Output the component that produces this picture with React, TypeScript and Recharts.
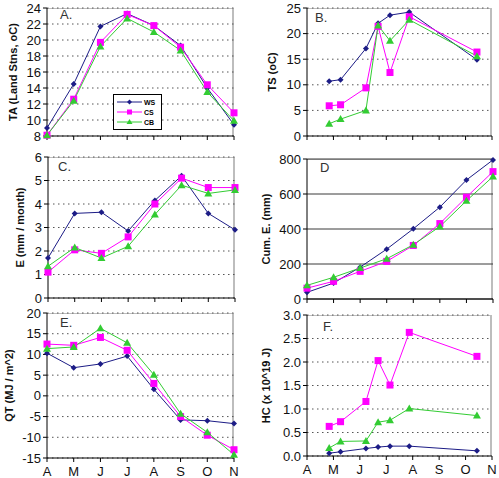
import React from 'react';
import { LineChart, Line, XAxis, YAxis, CartesianGrid, Legend } from 'recharts';

const months = ['A', 'M', 'J', 'J', 'A', 'S', 'O', 'N'];
const monthPos = [0, 1, 2, 3, 4, 5, 6, 7];
// survey dates (fraction of months since April 1) for panels B and F
const surveyPos = [0.84, 1.27, 2.23, 2.69, 3.14, 3.87, 6.43];

const seriesNames = ['WS', 'CS', 'CB'];

const taWS = [9.0, 14.5, 21.7, 23.3, 21.8, 19.3, 14.0, 9.4];
const taCS = [8.1, 12.6, 19.7, 23.2, 21.8, 19.1, 14.4, 10.9];
const taCB = [8.1, 12.4, 19.2, 22.7, 21.0, 18.7, 13.5, 9.9];

const tsWS = [10.7, 11.0, 17.1, 22.0, 23.6, 24.2, 14.9];
const tsCS = [5.9, 6.1, 9.4, 21.4, 12.4, 23.3, 16.4];
const tsCB = [2.4, 3.3, 5.0, 21.6, 18.6, 22.7, 15.6];

const eWS = [1.7, 3.6, 3.65, 2.85, 4.15, 5.2, 3.6, 2.9];
const eCS = [1.1, 2.05, 1.9, 2.6, 4.0, 5.1, 4.7, 4.7];
const eCB = [1.35, 2.15, 1.7, 2.2, 3.55, 4.8, 4.45, 4.6];

const cumWS = [38, 91, 182, 285, 401, 525, 680, 795];
const cumCS = [62, 101, 158, 215, 306, 431, 582, 728];
const cumCB = [78, 124, 177, 230, 310, 414, 561, 700];

const qtWS = [10.3, 6.8, 7.7, 9.6, 1.6, -5.8, -6.0, -6.7];
const qtCS = [12.5, 12.2, 14.1, 11.0, 3.0, -5.0, -9.5, -13.0];
const qtCB = [11.4, 11.8, 16.3, 12.8, 5.1, -4.3, -8.8, -14.2];

const hcWS = [0.06, 0.09, 0.16, 0.19, 0.21, 0.21, 0.11];
const hcCS = [0.63, 0.73, 1.16, 2.03, 1.51, 2.63, 2.12];
const hcCB = [0.17, 0.31, 0.32, 0.72, 0.76, 1.01, 0.86];

const BLUE = '#1c1c86';
const PINK = '#ff00ff';
const GREEN = '#33cc33';
const FONT = '"Liberation Sans", Arial, sans-serif';

const rows = (xs: number[], ws: number[], cs: number[], cb: number[]) =>
  xs.map((x, i) => ({ x, ws: ws[i], cs: cs[i], cb: cb[i] }));

const Diamond = (props: any) => {
  const { cx, cy, index } = props;
  if (cx == null || cy == null) return null;
  return <path key={index} d={`M${cx},${cy - 3}L${cx + 3},${cy}L${cx},${cy + 3}L${cx - 3},${cy}Z`} fill={BLUE} />;
};
const Square = (props: any) => {
  const { cx, cy, index } = props;
  if (cx == null || cy == null) return null;
  return <rect key={index} x={cx - 3.5} y={cy - 3.5} width={7} height={7} fill={PINK} />;
};
const Triangle = (props: any) => {
  const { cx, cy, index } = props;
  if (cx == null || cy == null) return null;
  return <path key={index} d={`M${cx},${cy - 4}L${cx + 4},${cy + 3}L${cx - 4},${cy + 3}Z`} fill={GREEN} />;
};

const LegendBox = () => {
  const items = [
    { name: seriesNames[0], color: BLUE, shape: 'd' },
    { name: seriesNames[1], color: PINK, shape: 's' },
    { name: seriesNames[2], color: GREEN, shape: 't' },
  ];
  return (
    <div style={{ border: '1px solid #000', background: '#fff', width: 47, padding: '2px 0', fontFamily: FONT }}>
      {items.map(it => (
        <div key={it.name} style={{ display: 'flex', alignItems: 'center', height: 10 }}>
          <svg width={30} height={10}>
            <line x1={3} y1={5} x2={28} y2={5} stroke={it.color} strokeWidth={1} />
            {it.shape === 'd' && <path d="M15.5,2.5L18,5L15.5,7.5L13,5Z" fill={it.color} />}
            {it.shape === 's' && <rect x={13} y={2.5} width={5} height={5} fill={it.color} />}
            {it.shape === 't' && <path d="M15.5,2L18.5,7L12.5,7Z" fill={it.color} />}
          </svg>
          <span style={{ fontSize: 7, color: '#000', fontWeight: 'bold' }}>{it.name}</span>
        </div>
      ))}
    </div>
  );
};

interface PanelProps {
  plotLeft: number;
  plotTop: number;
  plotW: number;
  plotH: number;
  data: { x: number; ws: number; cs: number; cb: number }[];
  domain: [number, number];
  ticks: number[];
  yFmt?: (v: number) => string;
  label: string;
  labelX: number;
  letter: string;
  letterLeft: number;
  letterTop: number;
  showMonths?: boolean;
  solidGrid?: boolean;
  legend?: boolean;
}

const LW = 47;

const Panel: React.FC<PanelProps> = p => {
  const w = LW + p.plotW + 6;
  const h = 8 + p.plotH + 24;
  const left = p.plotLeft - LW;
  const top = p.plotTop - 8;
  return (
    <>
      <div style={{ position: 'absolute', left: p.plotLeft, top: p.plotTop, width: p.plotW, height: p.plotH, borderTop: '1px solid #bdbdbd', borderRight: '2px solid #bdbdbd', boxSizing: 'border-box' }} />
      <div style={{ position: 'absolute', left, top }}>
        <LineChart width={w} height={h} data={p.data} margin={{ top: 8, right: 6, left: 0, bottom: 0 }}>
          <CartesianGrid
            vertical={false}
            stroke={p.solidGrid ? '#3a3a3a' : '#555'}
            strokeDasharray={p.solidGrid ? undefined : '1.5 3.5'}
          />
          <XAxis
            dataKey="x"
            type="number"
            domain={[0, 7]}
            ticks={monthPos}
            interval={0}
            height={24}
            stroke="#000"
            tickSize={4}
            tickMargin={5}
            tick={{ fontSize: 13, fill: '#111', fontFamily: FONT }}
            tickFormatter={(v: number) => (p.showMonths ? months[v] : '')}
          />
          <YAxis
            type="number"
            domain={p.domain}
            ticks={p.ticks}
            interval={0}
            width={LW}
            stroke="#000"
            tickSize={4}
            tickMargin={2}
            tick={{ fontSize: 13, fill: '#111', fontFamily: FONT }}
            tickFormatter={p.yFmt}
            label={{
              value: p.label,
              angle: -90,
              position: 'insideLeft',
              offset: p.labelX,
              style: { textAnchor: 'middle', fontSize: 11, fontWeight: 'bold', fill: '#111', fontFamily: FONT },
            }}
          />
          {p.legend && (
            <Legend
              layout="vertical"
              align="center"
              verticalAlign="middle"
              wrapperStyle={{ left: 113 - left, top: 94 - top, width: 49 }}
              content={() => <LegendBox />}
            />
          )}
          <Line dataKey="ws" name={seriesNames[0]} stroke={BLUE} strokeWidth={1} dot={Diamond} isAnimationActive={false} />
          <Line dataKey="cs" name={seriesNames[1]} stroke={PINK} strokeWidth={1} dot={Square} isAnimationActive={false} />
          <Line dataKey="cb" name={seriesNames[2]} stroke={GREEN} strokeWidth={1} dot={Triangle} isAnimationActive={false} />
        </LineChart>
      </div>
      <div style={{ position: 'absolute', left: p.letterLeft, top: p.letterTop, fontSize: 13, lineHeight: '13px', color: '#333', fontFamily: FONT }}>
        {p.letter}
      </div>
    </>
  );
};

export default function App() {
  return (
    <div style={{ position: 'fixed', left: 0, top: 0, width: 499, height: 478, background: '#fff', overflow: 'hidden', fontFamily: FONT }}>
      <Panel
        plotLeft={47} plotTop={8} plotW={187} plotH={128}
        data={rows(monthPos, taWS, taCS, taCB)}
        domain={[8, 24]} ticks={[8, 10, 12, 14, 16, 18, 20, 22, 24]}
        label="TA (Land Stns, oC)" labelX={13}
        letter="A." letterLeft={60} letterTop={8} legend
      />
      <Panel
        plotLeft={307} plotTop={8} plotW={185} plotH={128}
        data={rows(surveyPos, tsWS, tsCS, tsCB)}
        domain={[0, 25]} ticks={[0, 5, 10, 15, 20, 25]}
        label="TS (oC)" labelX={12}
        letter="B." letterLeft={315} letterTop={11}
      />
      <Panel
        plotLeft={48} plotTop={157} plotW={187} plotH={141}
        data={rows(monthPos, eWS, eCS, eCB)}
        domain={[0, 6]} ticks={[0, 1, 2, 3, 4, 5, 6]}
        label="E (mm / month)" labelX={19}
        letter="C." letterLeft={58} letterTop={160}
      />
      <Panel
        plotLeft={307} plotTop={159} plotW={186} plotH={140}
        data={rows(monthPos, cumWS, cumCS, cumCB)}
        domain={[0, 800]} ticks={[0, 200, 400, 600, 800]}
        label="Cum. E. (mm)" labelX={6}
        letter="D" letterLeft={320} letterTop={161} solidGrid
      />
      <Panel
        plotLeft={47} plotTop={313} plotW={187} plotH={145}
        data={rows(monthPos, qtWS, qtCS, qtCB)}
        domain={[-15, 20]} ticks={[-15, -10, -5, 0, 5, 10, 15, 20]}
        label="QT (MJ / m^2)" labelX={9}
        letter="E." letterLeft={60} letterTop={316} showMonths
      />
      <Panel
        plotLeft={307} plotTop={315} plotW={185} plotH={141}
        data={rows(surveyPos, hcWS, hcCS, hcCB)}
        domain={[0, 3]} ticks={[0, 0.5, 1, 1.5, 2, 2.5, 3]}
        yFmt={(v: number) => v.toFixed(1)}
        label="HC (x 10^19 J)" labelX={6}
        letter="F." letterLeft={323} letterTop={320} showMonths
      />
    </div>
  );
}
